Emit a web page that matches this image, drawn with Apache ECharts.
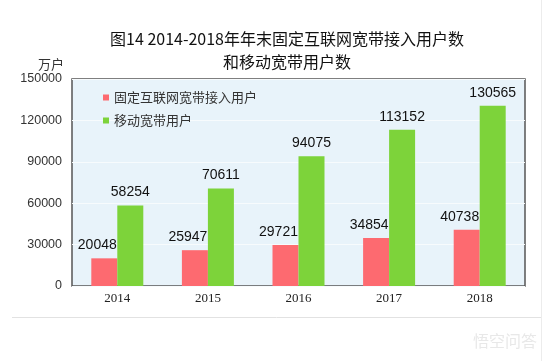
<!DOCTYPE html>
<html><head><meta charset="utf-8">
<script src="https://cdn.jsdelivr.net/npm/echarts@6/dist/echarts.min.js"></script>
<style>html,body{margin:0;padding:0;background:#fff}#c{width:551px;height:361px}</style>
</head><body><div id="c"></div>
<script>
var categories = ['2014','2015','2016','2017','2018'];
var fixedBroadband = [20048, 25947, 29721, 34854, 40738];
var mobileBroadband = [58254, 70611, 94075, 113152, 130565];
var seriesNames = ['固定互联网宽带接入用户','移动宽带用户'];
var yTicks = [0, 30000, 60000, 90000, 120000, 150000];

var chart = echarts.init(document.getElementById('c'));
var labelStyle = {show:true, position:'top', distance:6, color:'#111', fontSize:14, fontFamily:'Liberation Sans, Arial, sans-serif'};
chart.setOption({
  animation:false,
  backgroundColor:'#fff',
  title:{
    text:'图14 2014-2018年年末固定互联网宽带接入用户数\n和移动宽带用户数',
    left:282, top:22, textAlign:'center',
    textStyle:{fontSize:16, fontWeight:'normal', color:'#111', lineHeight:23, fontFamily:'Noto Sans CJK SC, sans-serif'}
  },
  legend:{
    orient:'vertical', left:98, top:86, itemWidth:6, itemHeight:6, itemGap:10,
    icon:'rect',
    textStyle:{fontSize:13, color:'#333', fontFamily:'Noto Sans CJK SC, sans-serif'},
    data:seriesNames
  },
  graphic:[
    {type:'line', shape:{x1:12,y1:317.5,x2:541,y2:317.5}, style:{stroke:'#e2e2e2', lineWidth:1}},
    {type:'line', shape:{x1:541.5,y1:0,x2:541.5,y2:361}, style:{stroke:'#ececec', lineWidth:1}},
    {type:'text', left:38, top:58, style:{text:'万户', fontSize:13, fill:'#333', fontFamily:'Noto Sans CJK SC, sans-serif'}},
    {type:'text', right:14, top:333, style:{text:'悟空问答', fontSize:16, fill:'#e8e8e8', fontFamily:'Noto Sans CJK SC, sans-serif'}}
  ],
  grid:{left:72, top:79, width:453, height:207, show:true, backgroundColor:'#e8f3fa', borderColor:'#555', borderWidth:1.5},
  xAxis:{
    type:'category', data:categories,
    axisLine:{show:false}, axisTick:{show:false},
    axisLabel:{color:'#222', fontSize:13, margin:6, fontFamily:'Liberation Serif, serif'}
  },
  yAxis:{
    type:'value', min:yTicks[0], max:yTicks[yTicks.length-1], interval:30000,
    axisLine:{show:false}, axisTick:{show:false},
    axisLabel:{color:'#333', fontSize:12.5, margin:10, fontFamily:'Liberation Sans, Arial, sans-serif', formatter:function(v){return String(v);}},
    splitLine:{show:true, lineStyle:{color:'#f7fbfd', width:1}}
  },
  series:[
    {name:seriesNames[0], type:'bar', data:fixedBroadband, barWidth:26, barGap:'0%', itemStyle:{color:'#fd6a70'}, label:Object.assign({}, labelStyle, {offset:[-7,0]})},
    {name:seriesNames[1], type:'bar', data:mobileBroadband, barWidth:26, barGap:'0%', itemStyle:{color:'#7dd33a'}, label:Object.assign({}, labelStyle, {offset:[0,0]})}
  ]
});
</script></body></html>
